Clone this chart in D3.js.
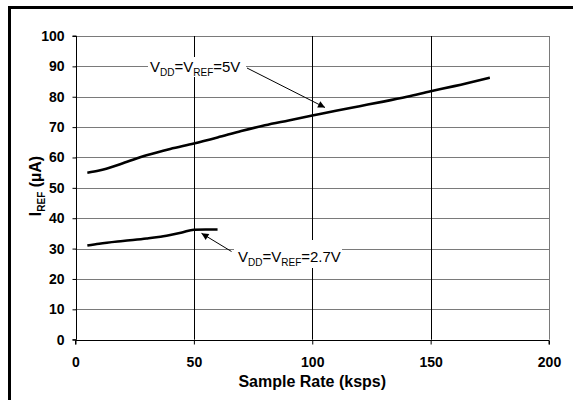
<!DOCTYPE html>
<html>
<head>
<meta charset="utf-8">
<script src="https://cdn.jsdelivr.net/npm/d3@7/dist/d3.min.js"></script>
<style>
html,body{margin:0;padding:0;background:#fff;}
svg{display:block;font-family:"Liberation Sans",Arial,sans-serif;}
</style>
</head>
<body>
<svg id="chart" width="573" height="400"></svg>
<script>
// ---- data ----
const xTicks = [0, 50, 100, 150, 200];
const yTicks = [0, 10, 20, 30, 40, 50, 60, 70, 80, 90, 100];
const rate5V = [5, 10, 20, 30, 40, 50, 60, 70, 80, 90, 100, 110, 120, 130, 140, 150, 160, 175];
const iref5V = [55.0, 55.7, 58.1, 60.7, 62.8, 64.6, 66.6, 68.7, 70.6, 72.2, 73.8, 75.4, 76.9, 78.4, 80.0, 81.8, 83.5, 86.3];
const rate27V = [5, 10, 20, 30, 35, 40, 45, 50, 55, 60];
const iref27V = [31.0, 31.6, 32.5, 33.3, 33.8, 34.5, 35.3, 36.2, 36.3, 36.3];

const svg = d3.select("#chart");
const x = d3.scaleLinear().domain([0, 200]).range([75.5, 549]);
const y = d3.scaleLinear().domain([0, 100]).range([339.7, 36]);

// outer frame (left and top visible)
svg.append("path").attr("d", "M9.5,400 L9.5,7.5 L573,7.5")
  .attr("fill", "none").attr("stroke", "#000").attr("stroke-width", 3);

const g = svg.append("g");

// horizontal gridlines (gray)
g.selectAll(".hg").data(yTicks.filter(d => d > 0)).enter().append("line")
  .attr("x1", x(0)).attr("x2", x(200))
  .attr("y1", d => Math.round(y(d)) + 0.5).attr("y2", d => Math.round(y(d)) + 0.5)
  .attr("stroke", "#7a7a7a").attr("stroke-width", 1);
// vertical gridlines (black)
g.selectAll(".vg").data(xTicks.filter(d => d > 0 && d < 200)).enter().append("line")
  .attr("y1", y(0)).attr("y2", y(100))
  .attr("x1", d => Math.round(x(d)) + 0.5).attr("x2", d => Math.round(x(d)) + 0.5)
  .attr("stroke", "#000").attr("stroke-width", 1);
// right border (gray)
g.append("line").attr("x1", Math.round(x(200)) + 0.5).attr("x2", Math.round(x(200)) + 0.5)
  .attr("y1", y(0)).attr("y2", y(100)).attr("stroke", "#7a7a7a");

// axes
const xAxis = d3.axisBottom(x).tickValues(xTicks).tickSize(4).tickPadding(13).tickFormat(d3.format("d"));
const yAxis = d3.axisLeft(y).tickValues(yTicks).tickSize(4).tickPadding(8).tickFormat(d3.format("d"));
const gx = svg.append("g").attr("transform", `translate(0,${Math.round(y(0)) + 0.5})`).call(xAxis);
const gy = svg.append("g").attr("transform", `translate(${Math.round(x(0)) + 0.5},0)`).call(yAxis);
[gx, gy].forEach(a => {
  a.select(".domain").attr("stroke", "#000").attr("stroke-width", 1);
  a.selectAll(".tick line").attr("stroke", "#000");
  a.selectAll(".tick text").attr("font-family", "Liberation Sans, Arial, sans-serif")
    .attr("font-size", 14).attr("font-weight", "bold").attr("fill", "#000");
});
gx.select(".domain").attr("d", `M${x(0)},4V0H${x(200)}V4`);
gy.select(".domain").attr("d", `M-4,${y(0)}H0V${y(100)}H-4`);

// axis titles
svg.append("text").attr("x", (x(0) + x(200)) / 2).attr("y", 387)
  .attr("text-anchor", "middle").attr("font-size", 16).attr("font-weight", "bold")
  .text("Sample Rate (ksps)");
const yt = svg.append("text").attr("transform", `translate(41,${186}) rotate(-90)`)
  .attr("text-anchor", "middle").attr("font-size", 16).attr("font-weight", "bold");
yt.append("tspan").text("I");
yt.append("tspan").attr("font-size", 10).attr("dy", 4).text("REF");
yt.append("tspan").attr("dy", -4).text(" (µA)");

// curves
const line = d3.line().x(d => x(d[0])).y(d => y(d[1])).curve(d3.curveMonotoneX);
svg.append("path").datum(rate5V.map((r, i) => [r, iref5V[i]])).attr("d", line)
  .attr("fill", "none").attr("stroke", "#000").attr("stroke-width", 2.6);
svg.append("path").datum(rate27V.map((r, i) => [r, iref27V[i]])).attr("d", line)
  .attr("fill", "none").attr("stroke", "#000").attr("stroke-width", 2.6);

// arrow marker
svg.append("defs").append("marker").attr("id", "ah")
  .attr("viewBox", "0 0 10 10").attr("refX", 10).attr("refY", 5)
  .attr("markerWidth", 9).attr("markerHeight", 7).attr("markerUnits", "userSpaceOnUse")
  .attr("orient", "auto")
  .append("path").attr("d", "M0,0 L10,5 L0,10 Z").attr("fill", "#000");

function label(xp, yp, vSub1, vSub2, tail, box) {
  svg.append("rect").attr("x", box[0]).attr("y", box[1]).attr("width", box[2]).attr("height", box[3]).attr("fill", "#fff");
  const t = svg.append("text").attr("x", xp).attr("y", yp).attr("font-size", 15);
  t.append("tspan").text("V");
  t.append("tspan").attr("font-size", 10).attr("dy", 4).text(vSub1);
  t.append("tspan").attr("dy", -4).text("=V");
  t.append("tspan").attr("font-size", 10).attr("dy", 4).text(vSub2);
  t.append("tspan").attr("dy", -4).text(tail);
}

label(150, 72, "DD", "REF", "=5V", [148, 57, 98, 20]);
svg.append("line").attr("x1", 247).attr("y1", 68).attr("x2", 325).attr("y2", 107.5)
  .attr("stroke", "#000").attr("stroke-width", 1).attr("marker-end", "url(#ah)");

label(238, 262, "DD", "REF", "=2.7V", [234, 240, 108, 28]);
svg.append("line").attr("x1", 231.5).attr("y1", 251.5).attr("x2", 201.5).attr("y2", 233.3)
  .attr("stroke", "#000").attr("stroke-width", 1).attr("marker-end", "url(#ah)");
</script>
</body>
</html>
